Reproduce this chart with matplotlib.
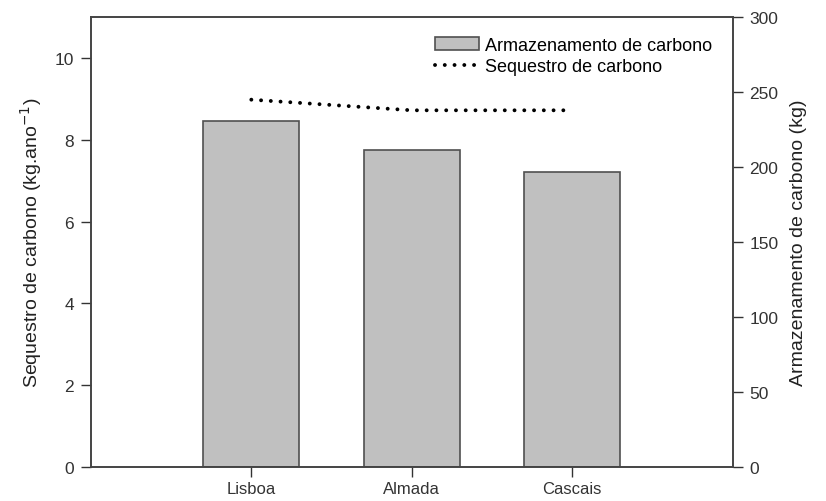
import matplotlib
matplotlib.use('Agg')
import matplotlib.pyplot as plt
import numpy as np

plt.rcParams['font.family'] = ['Liberation Sans', 'DejaVu Sans']

# data
cidades = ['Lisboa', 'Almada', 'Cascais']
armazenamento = [231, 211.5, 197]      # kg (right axis)
sequestro = [8.98, 8.72, 8.72]         # kg.ano-1 (left axis)

fig = plt.figure(figsize=(8.26, 5.02), dpi=100)
ax = fig.add_axes([0.110, 0.068, 0.777, 0.896])
ax2 = ax.twinx()

x = np.arange(len(cidades))

bars = ax2.bar(x, armazenamento, width=0.6, color='#c0c0c0',
               edgecolor='#505050', linewidth=1.2, label='Armazenamento de carbono')
line, = ax.plot(x, sequestro, color='black', linewidth=2.8,
                linestyle=(0, (0.01, 2.5)), dash_capstyle='round',
                label='Sequestro de carbono')
ax.set_zorder(ax2.get_zorder() + 1)
ax.patch.set_visible(False)

ax.set_xlim(-1, 3)
ax.set_ylim(0, 11)
ax.set_yticks([0, 2, 4, 6, 8, 10])
ax2.set_ylim(0, 300)
ax2.set_yticks([0, 50, 100, 150, 200, 250, 300])
ax.set_xticks(x)
ax.set_xticklabels(cidades)

for a in (ax, ax2):
    a.tick_params(direction='out', length=7, width=1, colors='#333333',
                  labelsize=12.5, pad=5)
    for s in a.spines.values():
        s.set_color('#444444')
        s.set_linewidth(1.2)
ax.tick_params(axis='x', pad=3, labelsize=12)

ax.set_ylabel('Sequestro de carbono (kg.ano$^{-1}$)', fontsize=14, color='#222222', labelpad=8)
ax2.set_ylabel('Armazenamento de carbono (kg)', fontsize=14, color='#222222', labelpad=8)

leg = ax.legend([bars, line], ['Armazenamento de carbono', 'Sequestro de carbono'],
                loc='upper right', bbox_to_anchor=(0.985, 0.98), frameon=False,
                fontsize=13, handlelength=2.4, handletextpad=0.35,
                labelspacing=0.22, borderaxespad=0.2)

fig.savefig('out.png', dpi=100)
